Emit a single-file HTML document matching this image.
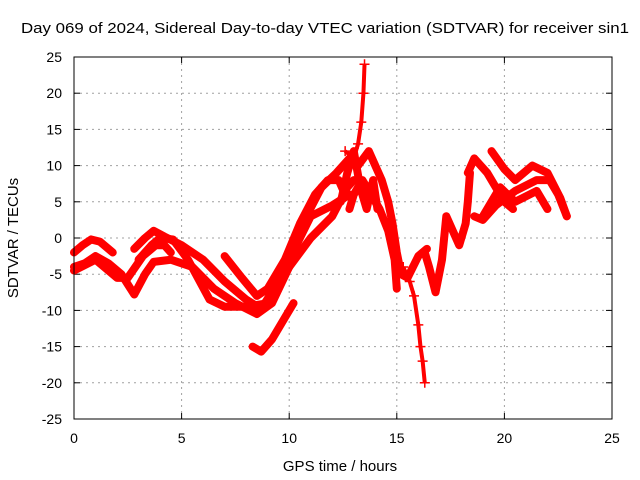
<!DOCTYPE html>
<html><head><meta charset="utf-8"><style>
body{margin:0;background:#fff}
svg{display:block;font-family:"Liberation Sans",sans-serif}
</style></head><body>
<svg id="chart" width="640" height="480" viewBox="0 0 640 480">
<rect width="640" height="480" fill="#fff"/>
<text x="325" y="33" font-size="15" text-anchor="middle" textLength="608" lengthAdjust="spacingAndGlyphs">Day 069 of 2024, Sidereal Day-to-day VTEC variation (SDTVAR) for receiver sin1</text>
<g id="grid"></g>
<g id="ticks"></g>
<g id="series"></g>
<rect x="74" y="57" width="538" height="362" fill="none" stroke="#000" stroke-width="1"/>
<text x="340" y="471" font-size="15" text-anchor="middle">GPS time / hours</text>
<text x="18" y="238" font-size="15" text-anchor="middle" transform="rotate(-90 18 238)">SDTVAR / TECUs</text>
</svg>
<script>
const xTicks=[0,5,10,15,20,25];
const yTicks=[-25,-20,-15,-10,-5,0,5,10,15,20,25];
const trackA=[[0,-2],[0.4,-1],[0.8,-0.2],[1.2,-0.5],[1.8,-2]];
const trackB=[[0,-4],[0.5,-3.5],[1,-2.5],[1.6,-3.5],[2.2,-5],[2.8,-7.8],[3.3,-5],[3.7,-3.3],[4.5,-3],[5.5,-4],[6.5,-7],[7.5,-9],[8.5,-10.5],[9.2,-9],[10,-4],[10.8,3],[11.5,7],[12.2,9],[12.8,11]];
const trackC=[[0,-4.5],[1,-3],[2,-5.5],[2.5,-5.5],[3.2,-2.5],[3.8,-1],[4.2,-1],[4.5,-2]];
const trackD=[[2.8,-1.5],[3.3,0],[3.7,1],[4.2,0.2],[5,-1],[6,-3],[7,-6],[8,-8.5],[8.7,-9.8],[9.5,-6],[10.5,0],[11,3],[12,4.5],[12.8,6]];
const trackE=[[3,-3],[3.6,-1],[4,0],[4.6,-0.2],[5.3,-3],[6.3,-8.5],[7,-9.5],[8,-9.5],[9,-9],[10,-4],[11,0],[12,3],[12.7,7],[13,8]];
const trackF=[[7,-2.5],[7.8,-5.5],[8.5,-8],[9,-7],[9.8,-3],[10.5,2],[11.2,6],[11.8,8],[12.3,8],[12.6,6]];
const trackG=[[8.3,-15],[8.7,-15.7],[9.2,-14],[9.8,-11],[10.2,-9]];
const trackH=[[13.2,10],[13.7,12],[14,10],[14.3,8],[14.6,5],[14.8,2],[15,-2],[15.2,-5],[15.5,-5.5],[16,-2.5],[16.4,-1.5]];
const trackI=[[12.6,12],[13,11],[13.2,13],[13.35,16],[13.45,20],[13.5,24]];
const trackJ=[[12.8,4],[13,6],[13.4,8],[13.8,6],[14.2,4],[14.6,1],[14.9,-3],[15,-7]];
const trackK=[[15.3,-4],[15.6,-6],[15.8,-8],[16,-12],[16.1,-15],[16.2,-17],[16.3,-20]];
const trackL=[[16.3,-2],[16.5,-4],[16.8,-7.5],[17.1,-3],[17.3,3],[17.6,1],[17.9,-1],[18.2,2],[18.3,5],[18.4,9]];
const trackM=[[18.3,9],[18.6,11],[19.2,9],[19.6,7],[20,5],[20.4,4]];
const trackN=[[18.6,3],[19,2.5],[19.6,4.5],[20.5,6.5],[21.5,8],[22.1,8],[22.5,6],[22.9,3]];
const trackO=[[19.4,12],[20,9.5],[20.5,8],[21.3,10],[22,9],[22.6,5.5],[22.9,3]];
const trackP=[[19,3],[19.8,7],[20.5,5],[21.5,6.5],[22,4]];
const trackQ=[[12.4,5],[12.7,9],[13,12],[13.3,7],[13.6,4],[13.9,8],[14.1,4]];
const thickTracks=[trackA,trackB,trackC,trackD,trackE,trackF,trackG,trackH,trackJ,trackL,trackM,trackN,trackO,trackP,trackQ];
const spikeTracks=[trackI,trackK];

const L=74,R=612,T=57,B=419;
const xs=h=>L+(h-0)/(25-0)*(R-L);
const ys=v=>B-(v+25)/50*(B-T);
const NS='http://www.w3.org/2000/svg';
function mk(tag,attrs,parent){const e=document.createElementNS(NS,tag);for(const k in attrs)e.setAttribute(k,attrs[k]);parent.appendChild(e);return e;}
const grid=document.getElementById('grid'),ticks=document.getElementById('ticks'),series=document.getElementById('series');
xTicks.forEach(t=>{const x=xs(t);
 if(t>0&&t<25){const g=mk('line',{x1:x,y1:T,x2:x,y2:B,stroke:'#a0a0a0','stroke-dasharray':'2,4'},grid);
 
 }
 mk('line',{x1:x,y1:B,x2:x,y2:B-6,stroke:'#000'},ticks);
 mk('line',{x1:x,y1:T,x2:x,y2:T+6,stroke:'#000'},ticks);
 const tx=mk('text',{x:x,y:443,'font-size':14,'text-anchor':'middle'},ticks);tx.textContent=t;
 
 
});
yTicks.forEach(t=>{const y=ys(t);
 if(t>-25&&t<25){const g=mk('line',{x1:L,y1:y,x2:R,y2:y,stroke:'#a0a0a0','stroke-dasharray':'2,4'},grid);
 
 }
 mk('line',{x1:L,y1:y,x2:L+6,y2:y,stroke:'#000'},ticks);
 mk('line',{x1:R,y1:y,x2:R-6,y2:y,stroke:'#000'},ticks);
 const tx=mk('text',{x:62,y:y+5,'font-size':14,'text-anchor':'end'},ticks);tx.textContent=t;
 
 
});
thickTracks.forEach(tr=>{
 const p=mk('polyline',{points:tr.map(d=>xs(d[0])+','+ys(d[1])).join(' '),fill:'none',stroke:'#f00','stroke-width':8,'stroke-linejoin':'round','stroke-linecap':'round'},series);
 
 
});
spikeTracks.forEach(tr=>{
 const p=mk('polyline',{points:tr.map(d=>xs(d[0])+','+ys(d[1])).join(' '),fill:'none',stroke:'#f00','stroke-width':4},series);
 
 
 tr.forEach(d=>{const x=xs(d[0]),y=ys(d[1]);
  const c=mk('path',{d:`M${x-5},${y}H${x+5}M${x},${y-5}V${y+5}`,stroke:'#f00','stroke-width':1.5},series);
  
  
 });
});
</script>
</body></html>
